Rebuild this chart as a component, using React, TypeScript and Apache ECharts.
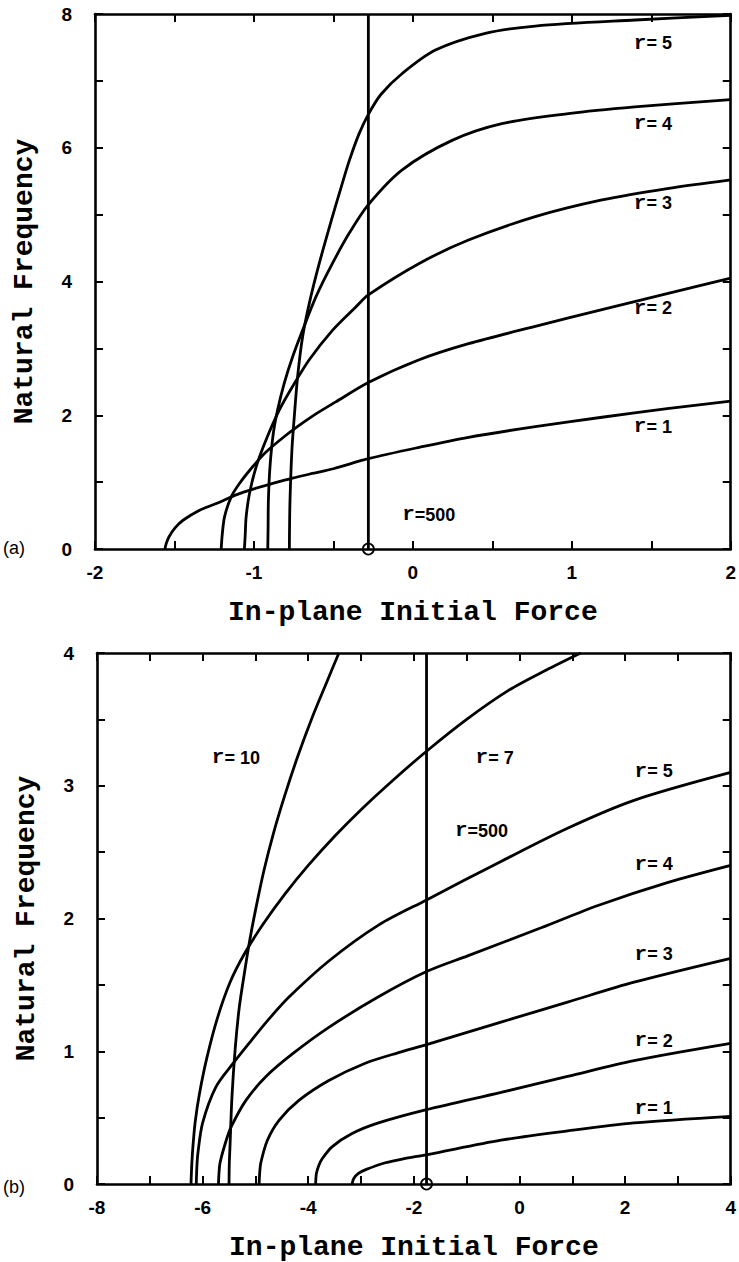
import React, { useEffect, useRef } from "react";
import * as echarts from "echarts";

// ---------- Panel (a) data: [in-plane initial force, natural frequency] ----------
const aR1 = [[-1.56, 0], [-1.552, 0.08], [-1.535, 0.18], [-1.495, 0.32], [-1.446, 0.43], [-1.342, 0.58], [-1.237, 0.68], [-1.112, 0.81], [-1.0, 0.9], [-0.882, 0.98], [-0.757, 1.06], [-0.631, 1.13], [-0.5, 1.2], [-0.28, 1.35], [0.04, 1.52], [0.35, 1.67], [0.77, 1.83], [1.19, 1.97], [1.6, 2.1], [2, 2.21]];
const aR2 = [[-1.206, 0], [-1.2, 0.2], [-1.185, 0.48], [-1.143, 0.78], [-1.091, 0.98], [-1.008, 1.23], [-0.924, 1.45], [-0.82, 1.66], [-0.72, 1.84], [-0.61, 2.02], [-0.485, 2.2], [-0.28, 2.49], [0.04, 2.83], [0.35, 3.07], [0.77, 3.33], [1.19, 3.58], [1.6, 3.82], [2, 4.05]];
const aR3 = [[-1.06, 0], [-1.055, 0.2], [-1.049, 0.48], [-1.028, 0.83], [-0.986, 1.23], [-0.924, 1.63], [-0.84, 2.08], [-0.757, 2.43], [-0.652, 2.83], [-0.506, 3.27], [-0.359, 3.62], [-0.28, 3.8], [0.04, 4.27], [0.35, 4.62], [0.77, 4.97], [1.19, 5.22], [1.6, 5.39], [2, 5.52]];
const aR4 = [[-0.913, 0], [-0.911, 0.3], [-0.909, 0.73], [-0.899, 1.23], [-0.878, 1.73], [-0.851, 2.08], [-0.809, 2.48], [-0.757, 2.87], [-0.694, 3.27], [-0.61, 3.77], [-0.506, 4.27], [-0.401, 4.72], [-0.28, 5.15], [-0.067, 5.67], [0.247, 6.11], [0.56, 6.36], [0.978, 6.51], [1.396, 6.61], [2, 6.72]];
const aR5 = [[-0.777, 0], [-0.776, 0.3], [-0.773, 0.73], [-0.761, 1.48], [-0.746, 1.98], [-0.725, 2.58], [-0.694, 3.17], [-0.652, 3.67], [-0.589, 4.27], [-0.506, 4.97], [-0.45, 5.42], [-0.401, 5.8], [-0.34, 6.2], [-0.28, 6.5], [-0.2, 6.8], [-0.067, 7.11], [0.142, 7.46], [0.456, 7.71], [0.77, 7.82], [1.4, 7.91], [2, 7.98]];
const aR500X = -0.28;
const aLabelText = ["r= 5", "r= 4", "r= 3", "r= 2", "r= 1", "r=500"];
const aLabelPos = [[1.51, 7.56], [1.51, 6.36], [1.51, 5.17], [1.51, 3.6], [1.51, 1.83], [0.1, 0.51]];

// ---------- Panel (b) data ----------
const bR1 = [[-3.17, 0], [-3.14, 0.04], [-3.05, 0.08], [-2.9, 0.11], [-2.54, 0.16], [-2.2, 0.19], [-1.76, 0.22], [-0.35, 0.33], [0.91, 0.4], [2.17, 0.46], [4, 0.51]];
const bR2 = [[-3.86, 0], [-3.845, 0.08], [-3.8, 0.14], [-3.736, 0.19], [-3.55, 0.28], [-3.17, 0.38], [-2.67, 0.46], [-1.76, 0.56], [-0.35, 0.69], [0.91, 0.81], [2.17, 0.93], [4, 1.06]];
const bR3 = [[-4.93, 0], [-4.92, 0.08], [-4.898, 0.16], [-4.773, 0.33], [-4.553, 0.48], [-4.177, 0.63], [-3.61, 0.78], [-2.92, 0.91], [-2.29, 0.99], [-1.76, 1.05], [-0.35, 1.22], [0.91, 1.37], [2.17, 1.52], [4, 1.7]];
const bR4 = [[-5.7, 0], [-5.69, 0.08], [-5.67, 0.16], [-5.56, 0.32], [-5.46, 0.43], [-5.18, 0.63], [-4.8, 0.81], [-4.3, 0.98], [-3.61, 1.18], [-2.67, 1.41], [-1.76, 1.6], [-0.97, 1.72], [0.41, 1.93], [1.5, 2.1], [2.8, 2.27], [4, 2.4]];
const bR5 = [[-6.12, 0], [-6.11, 0.12], [-6.09, 0.23], [-6.0, 0.46], [-5.75, 0.73], [-5.42, 0.91], [-5.08, 1.08], [-4.75, 1.24], [-4.36, 1.41], [-3.61, 1.68], [-2.67, 1.95], [-1.76, 2.14], [-0.35, 2.43], [0.91, 2.68], [2.17, 2.89], [4, 3.1]];
const bR7 = [[-6.22, 0], [-6.205, 0.15], [-6.18, 0.3], [-6.14, 0.47], [-6.06, 0.68], [-5.92, 0.95], [-5.72, 1.25], [-5.48, 1.52], [-5.2, 1.74], [-4.85, 1.96], [-4.45, 2.18], [-4.0, 2.4], [-3.5, 2.62], [-3.0, 2.82], [-2.4, 3.04], [-1.76, 3.26], [-1.0, 3.5], [-0.2, 3.72], [0.5, 3.87], [1.16, 4.0]];
const bR10 = [[-5.5, 0], [-5.495, 0.15], [-5.482, 0.28], [-5.444, 0.66], [-5.381, 1.03], [-5.306, 1.33], [-5.212, 1.58], [-5.11, 1.83], [-4.99, 2.08], [-4.84, 2.36], [-4.66, 2.64], [-4.45, 2.92], [-4.2, 3.22], [-3.92, 3.52], [-3.65, 3.78], [-3.42, 4.0]];
const bR500X = -1.76;
const bLabelText = ["r= 10", "r= 7", "r= 5", "r=500", "r= 4", "r= 3", "r= 2", "r= 1"];
const bLabelPos = [[-5.37, 3.21], [-0.47, 3.21], [2.54, 3.11], [-0.72, 2.66], [2.54, 2.41], [2.54, 1.73], [2.54, 1.08], [2.54, 0.57]];

// ---------- Axis ranges ----------
const aX = { min: -2, max: 2, tick: 0.5, labelEvery: 1 };
const aY = { min: 0, max: 8, tick: 1, labelEvery: 2 };
const bX = { min: -8, max: 4, tick: 1, labelEvery: 2 };
const bY = { min: 0, max: 4, tick: 0.5, labelEvery: 1 };

const X_NAME = "In-plane Initial Force";
const Y_NAME = "Natural Frequency";

const BLACK = "#000";
const SANS = "Liberation Sans";
const MONO = "Liberation Mono";

function isMultiple(v: number, step: number) {
  const r = v / step;
  return Math.abs(r - Math.round(r)) < 1e-6;
}

function xAxes(grid: number, ax: any) {
  const common = {
    gridIndex: grid,
    type: "value",
    min: ax.min,
    max: ax.max,
    interval: ax.tick,
    splitLine: { show: false },
    axisLine: { show: true, onZero: false, lineStyle: { color: BLACK, width: 2.6 } },
    axisTick: { show: true, inside: true, length: 8, lineStyle: { color: BLACK, width: 2 } },
  };
  return [
    {
      ...common,
      position: "bottom",
      axisLabel: {
        show: true,
        margin: 14,
        color: BLACK,
        fontFamily: SANS,
        fontWeight: "bold",
        fontSize: 19,
        formatter: (v: number) => (isMultiple(v, ax.labelEvery) ? String(v) : ""),
      },
      name: X_NAME,
      nameLocation: "middle",
      nameGap: 49,
      nameTextStyle: { fontFamily: MONO, fontWeight: "bold", fontSize: 28, color: BLACK },
    },
    { ...common, position: "top", axisLabel: { show: false } },
  ];
}

function yAxes(grid: number, ax: any) {
  const common = {
    gridIndex: grid,
    type: "value",
    min: ax.min,
    max: ax.max,
    interval: ax.tick,
    splitLine: { show: false },
    axisLine: { show: true, onZero: false, lineStyle: { color: BLACK, width: 2.6 } },
    axisTick: { show: true, inside: true, length: 8, lineStyle: { color: BLACK, width: 2 } },
  };
  return [
    {
      ...common,
      position: "left",
      axisLabel: {
        show: true,
        margin: 23,
        color: BLACK,
        fontFamily: SANS,
        fontWeight: "bold",
        fontSize: 19,
        formatter: (v: number) => (isMultiple(v, ax.labelEvery) ? String(v) : ""),
      },
      name: Y_NAME,
      nameLocation: "middle",
      nameGap: 57,
      nameRotate: 90,
      nameTextStyle: { fontFamily: MONO, fontWeight: "bold", fontSize: 28, color: BLACK },
    },
    { ...common, position: "right", axisLabel: { show: false } },
  ];
}

function curve(data: number[][], xi: number, yi: number) {
  return {
    type: "line",
    xAxisIndex: xi,
    yAxisIndex: yi,
    data,
    smooth: 0.3,
    showSymbol: false,
    symbol: "none",
    lineStyle: { color: BLACK, width: 2.8, opacity: 1 },
    silent: true,
  };
}

function labelSeries(texts: string[], pos: number[][], xi: number, yi: number) {
  return {
    type: "scatter",
    xAxisIndex: xi,
    yAxisIndex: yi,
    symbolSize: 0,
    data: texts.map((t, i) => ({ name: t, value: pos[i] })),
    itemStyle: { color: BLACK, opacity: 1 },
    label: {
      show: true,
      position: "inside",
      color: BLACK,
      opacity: 1,
      textBorderWidth: 0,
      formatter: (p: any) => "{r|r}{n|" + String(p.name).slice(1) + "}",
      rich: {
        r: { fontFamily: MONO, fontWeight: "bold", fontSize: 21, color: BLACK, textBorderWidth: 0 },
        n: { fontFamily: SANS, fontWeight: "bold", fontSize: 18, color: BLACK, textBorderWidth: 0 },
      },
    },
    silent: true,
  };
}

function markerSeries(x: number, xi: number, yi: number) {
  return {
    type: "scatter",
    xAxisIndex: xi,
    yAxisIndex: yi,
    clip: false,
    symbol: "circle",
    symbolSize: 11,
    data: [[x, 0]],
    itemStyle: { color: "rgba(0,0,0,0)", borderColor: BLACK, borderWidth: 1.8, opacity: 1 },
    z: 5,
    silent: true,
  };
}

export default function App() {
  const ref = useRef<HTMLDivElement>(null);
  useEffect(() => {
    if (!ref.current) return;
    const chart = echarts.init(ref.current, undefined, { renderer: "svg" });
    const option: any = {
      animation: false,
      backgroundColor: "#fff",
      grid: [
        { left: 95, top: 14, width: 638, height: 535, containLabel: false },
        { left: 97, top: 653, width: 637, height: 535, containLabel: false },
      ],
      xAxis: [...xAxes(0, aX), ...xAxes(1, bX)],
      yAxis: [...yAxes(0, aY), ...yAxes(1, bY)],
      graphic: [
        { type: "text", left: 3, top: 539, style: { text: "(a)", fontFamily: SANS, fontSize: 18, fill: BLACK } },
        { type: "text", left: 3, top: 1178, style: { text: "(b)", fontFamily: SANS, fontSize: 18, fill: BLACK } },
      ],
      series: [
        curve(aR1, 0, 0),
        curve(aR2, 0, 0),
        curve(aR3, 0, 0),
        curve(aR4, 0, 0),
        curve(aR5, 0, 0),
        { ...curve([[aR500X, aY.min], [aR500X, aY.max]], 0, 0), smooth: false },
        markerSeries(aR500X, 0, 0),
        labelSeries(aLabelText, aLabelPos, 0, 0),
        curve(bR1, 2, 2),
        curve(bR2, 2, 2),
        curve(bR3, 2, 2),
        curve(bR4, 2, 2),
        curve(bR5, 2, 2),
        curve(bR7, 2, 2),
        curve(bR10, 2, 2),
        { ...curve([[bR500X, bY.min], [bR500X, bY.max]], 2, 2), smooth: false },
        markerSeries(bR500X, 2, 2),
        labelSeries(bLabelText, bLabelPos, 2, 2),
      ],
    };
    chart.setOption(option);
    return () => chart.dispose();
  }, []);
  return (
    <div
      ref={ref}
      style={{ position: "absolute", left: 0, top: 0, width: 739, height: 1262, background: "#fff" }}
    />
  );
}
